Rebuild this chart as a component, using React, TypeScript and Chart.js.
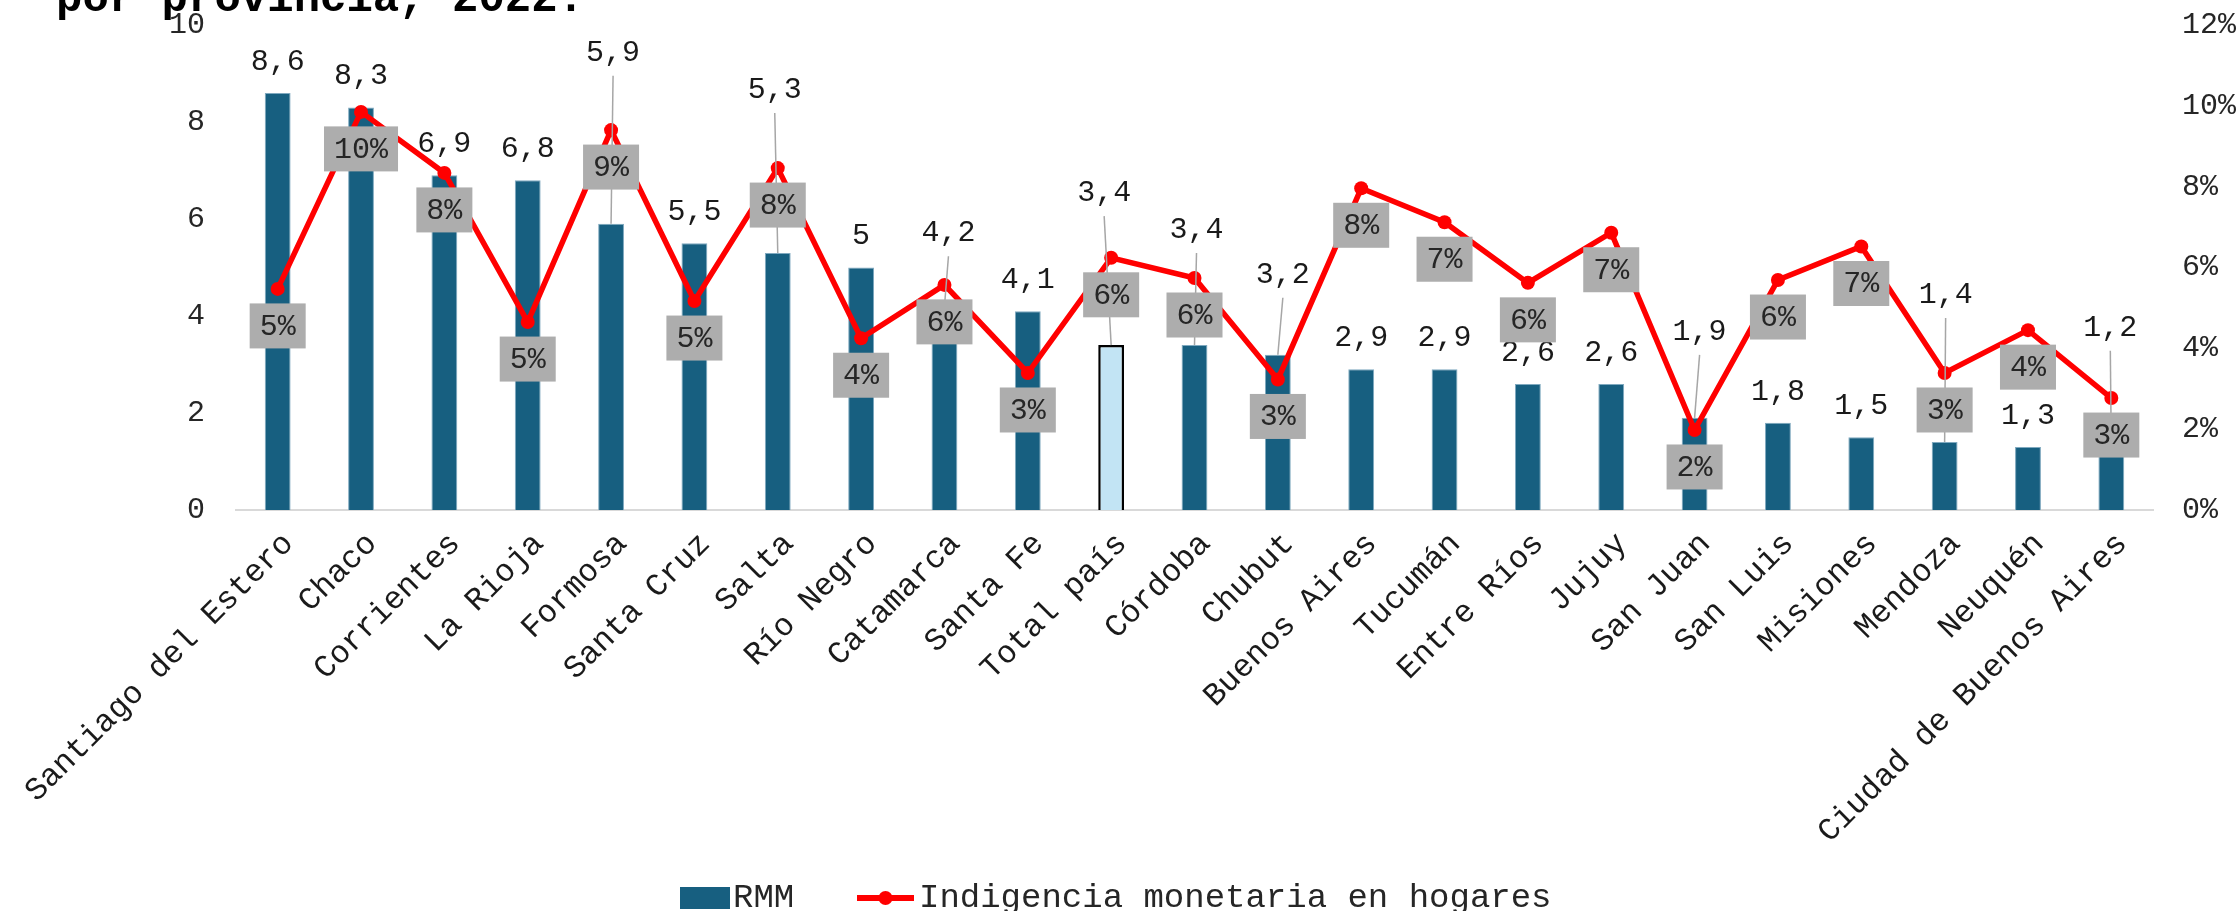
import React, { useEffect, useRef } from 'react';
import { Chart, registerables } from 'chart.js';

Chart.register(...registerables);

const categories = [
  'Santiago del Estero', 'Chaco', 'Corrientes', 'La Rioja', 'Formosa', 'Santa Cruz', 'Salta',
  'Río Negro', 'Catamarca', 'Santa Fe', 'Total país', 'Córdoba', 'Chubut', 'Buenos Aires',
  'Tucumán', 'Entre Ríos', 'Jujuy', 'San Juan', 'San Luis', 'Misiones', 'Mendoza', 'Neuquén',
  'Ciudad de Buenos Aires',
];
const rmmValues = [8.6, 8.3, 6.9, 6.8, 5.9, 5.5, 5.3, 5, 4.2, 4.1, 3.4, 3.4, 3.2, 2.9, 2.9, 2.6, 2.6, 1.9, 1.8, 1.5, 1.4, 1.3, 1.2];
const indigenciaValues = [5.47, 9.85, 8.34, 4.65, 9.4, 5.17, 8.46, 4.25, 5.57, 3.39, 6.24, 5.74, 3.23, 7.96, 7.12, 5.62, 6.86, 1.98, 5.69, 6.52, 3.39, 4.45, 2.77];
const highlightCategory = 'Total país';
const seriesNames = ['RMM', 'Indigencia monetaria en hogares'];
const titleText = 'por provincia, 2022.';

// label layout (extra lift in px of the RMM value labels, with leader lines)
const barLabelLift = [0, 0, 0, 0, 140, 0, 132, 0, 42, 0, 121, 84, 49, 0, 0, 0, 0, 55, 0, 0, 116, 0, 93];
const barLabelDx = [0, 0, 0, 0, 2, 0, -3, 0, 4, 0, -7, 2, 5, 0, 0, 0, 0, 5, 0, 0, 1, 0, -1];

const FONT = '"Liberation Mono", "DejaVu Sans Mono", monospace';
const BAR_COLOR = '#175F80';
const HIGHLIGHT_COLOR = '#C2E4F4';
const LINE_COLOR = '#FF0000';

const fmtComma = (v: number) => String(v).replace('.', ',');

const labelPlugin = {
  id: 'customLabels',
  afterDatasetsDraw(chart: any) {
    const ctx = chart.ctx;
    const barMeta = chart.getDatasetMeta(0);
    const lineMeta = chart.getDatasetMeta(1);
    ctx.save();
    // leader lines
    ctx.strokeStyle = '#A6A6A6';
    ctx.lineWidth = 1.5;
    barMeta.data.forEach((bar: any, i: number) => {
      const lift = barLabelLift[i];
      if (lift > 0) {
        const lx = bar.x + barLabelDx[i];
        const ly = bar.y - 31 - lift;
        ctx.beginPath();
        ctx.moveTo(lx, ly + 23);
        ctx.lineTo(bar.x, bar.y);
        ctx.stroke();
      }
    });
    // bar value labels
    ctx.font = `30px ${FONT}`;
    ctx.textAlign = 'center';
    ctx.textBaseline = 'middle';
    ctx.fillStyle = '#1A1A1A';
    barMeta.data.forEach((bar: any, i: number) => {
      const lx = bar.x + barLabelDx[i];
      const ly = bar.y - 31 - barLabelLift[i];
      ctx.fillText(fmtComma(rmmValues[i]), lx, ly);
    });
    // percentage boxes
    lineMeta.data.forEach((pt: any, i: number) => {
      const txt = Math.round(indigenciaValues[i]) + '%';
      const w = ctx.measureText(txt).width + 20;
      const h = 45;
      const cx = pt.x;
      const cy = pt.y + 37;
      ctx.fillStyle = '#ADADAD';
      ctx.fillRect(cx - w / 2, cy - h / 2, w, h);
      ctx.fillStyle = '#262626';
      ctx.fillText(txt, cx, cy + 1);
    });
    ctx.restore();
  },
};

const legendTitlePlugin = {
  id: 'legendTitle',
  afterDraw(chart: any) {
    const ctx = chart.ctx;
    ctx.save();
    // title (cut at the top edge)
    ctx.font = `bold 44px ${FONT}`;
    ctx.fillStyle = '#000';
    ctx.textAlign = 'left';
    ctx.textBaseline = 'alphabetic';
    ctx.fillText(titleText, 56, 11);
    // legend
    const cy = 898;
    ctx.fillStyle = BAR_COLOR;
    ctx.fillRect(680, cy - 11, 50, 22);
    ctx.font = `34px ${FONT}`;
    ctx.fillStyle = '#262626';
    ctx.textBaseline = 'middle';
    ctx.fillText(seriesNames[0], 733, cy);
    ctx.strokeStyle = LINE_COLOR;
    ctx.lineWidth = 6;
    ctx.beginPath();
    ctx.moveTo(857, cy);
    ctx.lineTo(914, cy);
    ctx.stroke();
    ctx.fillStyle = LINE_COLOR;
    ctx.beginPath();
    ctx.arc(885.5, cy, 7, 0, Math.PI * 2);
    ctx.fill();
    ctx.fillStyle = '#262626';
    ctx.fillText(seriesNames[1], 919, cy);
    ctx.restore();
  },
};

export default function App() {
  const canvasRef = useRef<HTMLCanvasElement | null>(null);

  useEffect(() => {
    if (!canvasRef.current) return;
    const barColors = categories.map((c) => (c === highlightCategory ? HIGHLIGHT_COLOR : BAR_COLOR));
    const barBorders = categories.map((c) => (c === highlightCategory ? '#000000' : '#7FA9BF'));
    const barBorderWidths = categories.map((c) => (c === highlightCategory ? 2.5 : 1));

    const chart = new Chart(canvasRef.current, {
      type: 'bar',
      data: {
        labels: categories,
        datasets: [
          {
            type: 'bar',
            label: seriesNames[0],
            data: rmmValues,
            backgroundColor: barColors,
            borderColor: barBorders,
            borderWidth: barBorderWidths,
            barPercentage: 0.31,
            categoryPercentage: 1,
            yAxisID: 'y',
            order: 2,
          },
          {
            type: 'line',
            label: seriesNames[1],
            data: indigenciaValues,
            borderColor: LINE_COLOR,
            backgroundColor: LINE_COLOR,
            borderWidth: 5.5,
            pointRadius: 7,
            pointBackgroundColor: LINE_COLOR,
            pointBorderWidth: 0,
            tension: 0,
            yAxisID: 'y1',
            order: 1,
          },
        ] as any,
      },
      options: {
        responsive: false,
        animation: false,
        devicePixelRatio: 1,
        layout: { padding: { top: 25, bottom: 20, left: 0, right: 0 } },
        plugins: {
          legend: { display: false },
          tooltip: { enabled: false },
          title: { display: false },
        },
        scales: {
          x: {
            grid: { display: false, drawTicks: false },
            border: { display: true, color: '#D9D9D9', width: 2 },
            ticks: {
              autoSkip: false,
              maxRotation: 45,
              minRotation: 45,
              padding: 15,
              labelOffset: 11,
              color: '#1A1A1A',
              font: { family: FONT, size: 32 },
            },
            afterFit: (scale: any) => {
              scale.height = 381;
              scale.paddingLeft = 0;
              scale.paddingRight = 0;
            },
          },
          y: {
            position: 'left',
            min: 0,
            max: 10,
            grid: { display: false, drawTicks: false },
            border: { display: false },
            ticks: {
              stepSize: 2,
              padding: 31,
              color: '#262626',
              font: { family: FONT, size: 30 },
            },
            afterFit: (scale: any) => {
              scale.width = 236;
              scale.paddingTop = 0;
              scale.paddingBottom = 0;
            },
          },
          y1: {
            position: 'right',
            min: 0,
            max: 12,
            grid: { display: false, drawTicks: false },
            border: { display: false },
            ticks: {
              stepSize: 2,
              padding: 29,
              color: '#262626',
              font: { family: FONT, size: 30 },
              callback: (v: any) => `${v}%`,
            },
            afterFit: (scale: any) => {
              scale.width = 87;
              scale.paddingTop = 0;
              scale.paddingBottom = 0;
            },
          },
        },
      } as any,
      plugins: [labelPlugin, legendTitlePlugin],
    });
    return () => chart.destroy();
  }, []);

  return (
    <div style={{ position: 'fixed', left: 0, top: 0, width: 2240, height: 911, background: '#fff' }}>
      <canvas ref={canvasRef} width={2240} height={911} style={{ width: 2240, height: 911, display: 'block' }} />
    </div>
  );
}
